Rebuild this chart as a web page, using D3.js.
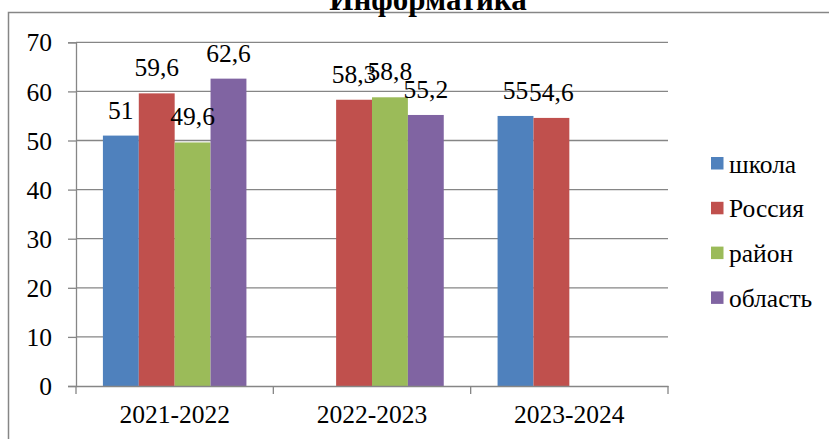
<!DOCTYPE html>
<html>
<head>
<meta charset="utf-8">
<script src="https://cdn.jsdelivr.net/npm/d3@7"></script>
<style>
  html, body { margin: 0; padding: 0; background: #fff; }
  svg { display: block; }
</style>
</head>
<body>
<svg id="chart" width="829" height="439" font-family="Liberation Serif"></svg>
<script>
// School years on the category axis
const years = ["2021-2022", "2022-2023", "2023-2024"];
// Series names (legend order)
const seriesNames = ["школа", "Россия", "район", "область"];
const seriesColors = ["#4F81BD", "#C0504D", "#9BBB59", "#8064A2"];
// Average scores per series, null where there is no result
const school   = [51, null, 55];
const russia   = [59.6, 58.3, 54.6];
const district = [49.6, 58.8, null];
const region   = [62.6, 55.2, null];
const yTicks = [0, 10, 20, 30, 40, 50, 60, 70];

const seriesValues = [school, russia, district, region];

const svg = d3.select("#chart");
const plot = { left: 76, right: 668, top: 42.3, bottom: 386 };
const fontSize = 25.5;
const serif = "Liberation Serif";

// outer chart frame
svg.append("rect")
  .attr("x", 8.5).attr("y", 12.5)
  .attr("width", 860).attr("height", 460)
  .attr("fill", "none").attr("stroke", "#868686").attr("stroke-width", 1.5);

// title
svg.append("text")
  .attr("x", 428).attr("y", 10)
  .attr("text-anchor", "middle")
  .attr("font-family", serif)
  .attr("font-weight", "bold")
  .attr("font-size", 31)
  .text("Информатика");

const x = d3.scaleBand().domain(years).range([plot.left, plot.right]).paddingInner(0).paddingOuter(0);
// inner band for the four series slots, Excel-like gap of 150%
const xs = d3.scaleBand().domain(seriesNames)
  .range([0, x.bandwidth()])
  .paddingInner(0).paddingOuter(0.75);
const y = d3.scaleLinear().domain([0, 70]).range([plot.bottom, plot.top]);

// horizontal gridlines
svg.append("g").selectAll("line").data(yTicks.filter(d => d > 0)).join("line")
  .attr("x1", plot.left).attr("x2", plot.right)
  .attr("y1", d => y(d)).attr("y2", d => y(d))
  .attr("stroke", "#868686").attr("stroke-width", 1.3);

// y axis
const yAxis = svg.append("g")
  .attr("transform", `translate(${plot.left},0)`)
  .call(d3.axisLeft(y).tickValues(yTicks).tickSize(8).tickPadding(16));
yAxis.attr("font-family", serif).attr("font-size", fontSize);
yAxis.select(".domain").attr("stroke", "#868686").attr("stroke-width", 1.3);
yAxis.selectAll(".tick line").attr("stroke", "#868686").attr("stroke-width", 1.3);
yAxis.selectAll(".tick text").attr("fill", "#000").attr("dy", "0.34em");

// bars
const groups = svg.append("g").selectAll("g").data(years).join("g")
  .attr("transform", d => `translate(${x(d)},0)`);

groups.each(function(year, yi) {
  const g = d3.select(this);
  seriesNames.forEach((name, si) => {
    const v = seriesValues[si][yi];
    if (v == null) return;
    g.append("rect")
      .attr("x", xs(name)).attr("width", xs.bandwidth())
      .attr("y", y(v)).attr("height", y(0) - y(v))
      .attr("fill", seriesColors[si]);
  });
});

// x axis
const xAxis = svg.append("g")
  .attr("transform", `translate(0,${plot.bottom})`)
  .call(d3.axisBottom(x).tickSize(0).tickPadding(19));
xAxis.attr("font-family", serif).attr("font-size", fontSize);
xAxis.select(".domain").attr("stroke", "#868686").attr("stroke-width", 1.3);
xAxis.selectAll(".tick text").attr("fill", "#000").attr("dy", "0.71em");
// tick marks on category boundaries
svg.append("g").selectAll("line").data([...years.map(d => x(d)), plot.right]).join("line")
  .attr("x1", d => d).attr("x2", d => d)
  .attr("y1", plot.bottom).attr("y2", plot.bottom + 8)
  .attr("stroke", "#868686").attr("stroke-width", 1.3);

// value labels above bars
const fmt = v => String(v).replace(".", ",");
groups.each(function(year, yi) {
  const g = d3.select(this);
  seriesNames.forEach((name, si) => {
    const v = seriesValues[si][yi];
    if (v == null) return;
    g.append("text")
      .attr("x", xs(name) + xs.bandwidth() / 2)
      .attr("y", y(v) - 17)
      .attr("text-anchor", "middle")
      .attr("font-family", serif)
      .attr("font-size", fontSize)
      .text(fmt(v));
  });
});

// legend
const legend = svg.append("g").selectAll("g").data(seriesNames).join("g")
  .attr("transform", (d, i) => `translate(711,${157 + i * 44.8})`);
legend.append("rect").attr("width", 12.5).attr("height", 12.5)
  .attr("fill", (d, i) => seriesColors[i]);
legend.append("text")
  .attr("x", 18).attr("y", 15.5)
  .attr("font-family", serif)
  .attr("font-size", fontSize)
  .text(d => d);
</script>
</body>
</html>
